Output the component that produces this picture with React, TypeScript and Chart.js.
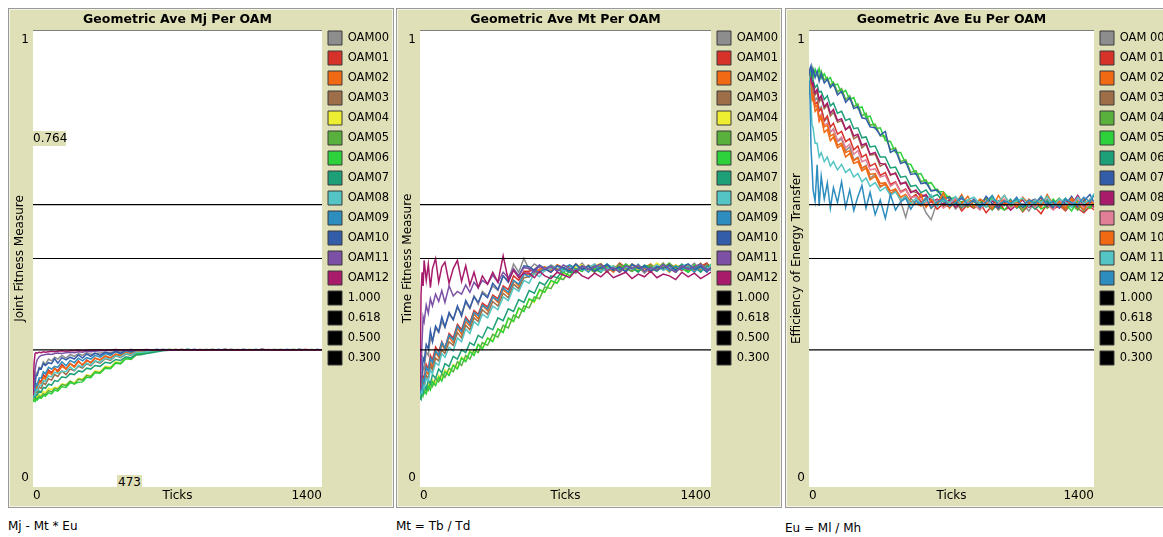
import React, { useEffect, useRef } from 'react';
import { Chart, registerables } from 'chart.js';

Chart.register(...registerables);

// ---------- data ----------
const TICKS = [
  0, 5, 10, 15, 20, 30, 40, 50, 60, 75,
  90, 105, 120, 140, 160, 180, 200, 220, 240, 260,
  280, 300, 325, 350, 375, 400, 425, 450, 475, 500,
  525, 550, 575, 600, 630, 660, 690, 720, 750, 780,
  810, 840, 870, 900, 930, 960, 990, 1020, 1050, 1080,
  1110, 1140, 1170, 1200, 1230, 1260, 1290, 1320, 1350, 1380, 1400,
];

const X_TICK_LABELS = [0, 1400];
const Y_TICK_LABELS = [0, 1];

const OAM_LABELS = ['OAM00', 'OAM01', 'OAM02', 'OAM03', 'OAM04', 'OAM05', 'OAM06', 'OAM07', 'OAM08', 'OAM09', 'OAM10', 'OAM11', 'OAM12'];
const OAM_LABELS_EU = ['OAM 00', 'OAM 01', 'OAM 02', 'OAM 03', 'OAM 04', 'OAM 05', 'OAM 06', 'OAM 07', 'OAM 08', 'OAM 09', 'OAM 10', 'OAM 11', 'OAM 12'];
const LEVELS = [1.0, 0.618, 0.5, 0.3];
const LEVEL_LABELS = ['1.000', '0.618', '0.500', '0.300'];

const COLORS_A = ['#8D8D8D', '#D73229', '#F16913', '#9D6E48', '#EDED31', '#59B03C', '#2CD13B', '#1D9F78', '#54C4C4', '#2D8DBE', '#345DA9', '#7C50A4', '#A71B6A'];
const COLORS_B = ['#8D8D8D', '#D73229', '#F16913', '#9D6E48', '#59B03C', '#2CD13B', '#1D9F78', '#345DA9', '#A71B6A', '#E07F96', '#F16913', '#54C4C4', '#2D8DBE'];

// Mj (joint fitness)
const MJ_OAM00 = [.210,.226,.232,.250,.246,.262,.260,.274,.268,.280, .276,.284,.280,.288,.282,.290,.286,.292,.288,.294, .290,.292,.293,.294,.295,.296,.296,.297,.298,.298, .299,.299,.300,.300,.301,.300,.299,.300,.301,.300, .300,.299,.300,.301,.300,.300,.299,.300,.301,.300, .300,.299,.300,.300,.301,.300,.299,.300,.300,.301,.300];
const MJ_OAM01 = [.200,.210,.208,.224,.218,.234,.230,.246,.240,.256, .250,.260,.254,.268,.258,.270,.264,.276,.266,.278, .272,.282,.278,.286,.282,.290,.288,.294,.291,.296, .296,.297,.298,.299,.300,.301,.300,.299,.300,.300, .301,.300,.299,.300,.300,.301,.300,.299,.300,.300, .301,.300,.300,.299,.300,.301,.300,.300,.299,.300,.300];
const MJ_OAM02 = [.198,.206,.205,.218,.214,.230,.226,.240,.236,.252, .246,.260,.250,.264,.258,.270,.262,.274,.268,.276, .272,.282,.278,.287,.283,.291,.288,.294,.292,.297, .297,.298,.299,.300,.300,.299,.301,.300,.300,.299, .300,.301,.300,.300,.299,.300,.301,.300,.300,.299, .300,.300,.301,.300,.299,.300,.300,.301,.300,.299,.300];
const MJ_OAM03 = [.195,.202,.200,.211,.207,.219,.216,.228,.224,.237, .234,.246,.242,.254,.246,.258,.254,.264,.260,.270, .265,.275,.271,.281,.277,.287,.283,.291,.288,.294, .294,.296,.297,.299,.300,.300,.301,.300,.299,.300, .300,.300,.301,.299,.300,.300,.300,.301,.300,.299, .300,.301,.300,.300,.300,.299,.301,.300,.300,.300,.301];
const MJ_OAM04 = [.190,.194,.192,.199,.196,.203,.200,.209,.206,.216, .213,.218,.216,.226,.224,.230,.228,.238,.236,.246, .243,.254,.252,.264,.262,.274,.272,.282,.280,.290, .290,.293,.296,.298,.300,.299,.300,.301,.300,.300, .299,.300,.301,.300,.300,.299,.300,.300,.301,.300, .300,.299,.300,.301,.300,.300,.299,.300,.301,.300,.300];
const MJ_OAM05 = [.188,.192,.189,.195,.193,.199,.197,.204,.202,.211, .208,.216,.214,.224,.222,.232,.225,.236,.234,.244, .242,.252,.250,.262,.260,.272,.270,.281,.279,.289, .290,.293,.296,.298,.300,.300,.299,.300,.301,.300, .300,.300,.299,.300,.301,.300,.300,.300,.299,.300, .301,.300,.300,.299,.300,.300,.301,.300,.300,.299,.300];
const MJ_OAM06 = [.186,.190,.187,.192,.190,.196,.194,.200,.199,.206, .204,.212,.210,.220,.218,.228,.226,.229,.230,.240, .239,.250,.249,.260,.259,.271,.270,.281,.280,.291, .292,.295,.298,.300,.300,.301,.300,.299,.300,.300, .300,.299,.300,.300,.301,.300,.299,.300,.300,.301, .300,.300,.299,.300,.300,.301,.300,.300,.299,.300,.300];
const MJ_OAM07 = [.193,.198,.196,.203,.201,.210,.208,.218,.216,.225, .223,.233,.231,.241,.239,.248,.246,.254,.252,.260, .258,.266,.264,.273,.271,.279,.277,.285,.283,.290, .290,.292,.294,.296,.298,.299,.300,.300,.301,.300, .300,.299,.300,.300,.300,.301,.300,.299,.300,.300, .301,.300,.299,.300,.300,.300,.301,.300,.299,.300,.300];
const MJ_OAM08 = [.196,.203,.202,.213,.211,.223,.222,.233,.231,.243, .241,.251,.249,.253,.253,.263,.255,.266,.263,.271, .267,.276,.273,.282,.279,.287,.284,.292,.289,.295, .295,.296,.298,.299,.300,.300,.299,.301,.300,.300, .300,.301,.300,.299,.300,.300,.300,.301,.300,.299, .300,.300,.301,.300,.300,.299,.300,.300,.301,.300,.300];
const MJ_OAM09 = [.200,.211,.212,.226,.224,.239,.238,.252,.248,.262, .258,.264,.262,.274,.265,.277,.272,.282,.276,.283, .280,.288,.284,.292,.288,.296,.291,.298,.295,.299, .299,.300,.300,.301,.300,.299,.300,.300,.301,.300, .299,.300,.300,.301,.300,.300,.299,.300,.300,.301, .300,.300,.299,.300,.301,.300,.300,.300,.299,.300,.300];
const MJ_OAM10 = [.205,.219,.224,.244,.244,.260,.258,.270,.266,.272, .270,.281,.271,.283,.278,.284,.280,.289,.282,.291, .286,.293,.288,.295,.291,.297,.293,.299,.296,.300, .299,.300,.300,.299,.301,.300,.300,.300,.299,.301, .300,.300,.301,.300,.299,.300,.300,.301,.300,.300, .299,.300,.300,.301,.300,.300,.299,.300,.300,.301,.300];
const MJ_OAM11 = [.205,.230,.255,.270,.278,.285,.288,.289,.290,.291, .290,.292,.293,.292,.294,.295,.294,.296,.295,.297, .296,.297,.298,.298,.299,.299,.300,.300,.301,.300, .300,.299,.300,.301,.300,.300,.300,.299,.300,.301, .300,.300,.299,.300,.301,.300,.300,.300,.299,.300, .301,.300,.300,.300,.299,.300,.301,.300,.300,.300,.299];
const MJ_OAM12 = [.200,.270,.292,.294,.293,.295,.294,.296,.295,.296, .297,.296,.297,.298,.297,.298,.298,.299,.298,.299, .299,.300,.300,.299,.300,.301,.300,.300,.299,.300, .300,.301,.300,.300,.299,.300,.300,.301,.300,.300, .299,.300,.300,.300,.301,.300,.299,.300,.300,.300, .301,.300,.300,.299,.300,.300,.300,.301,.300,.300,.300];

// Mt (time fitness)
const MT_OAM00 = [.205,.232,.228,.262,.258,.296,.288,.326,.318,.348, .338,.362,.350,.378,.366,.392,.380,.404,.390,.418, .400,.428,.418,.440,.430,.462,.452,.488,.470,.500, .476,.488,.480,.472,.486,.478,.470,.484,.476,.490, .474,.482,.470,.486,.478,.472,.488,.476,.482,.468, .480,.488,.474,.482,.470,.484,.478,.490,.472,.482,.486];
const MT_OAM01 = [.200,.214,.222,.242,.236,.268,.258,.288,.278,.306, .296,.318,.304,.336,.326,.356,.344,.372,.360,.386, .378,.402,.394,.420,.412,.440,.432,.462,.452,.472, .472,.476,.484,.478,.470,.486,.480,.474,.488,.476, .482,.470,.486,.478,.474,.490,.480,.472,.484,.478, .470,.484,.476,.488,.480,.474,.486,.472,.482,.490,.478];
const MT_OAM02 = [.200,.210,.212,.232,.224,.254,.246,.274,.262,.294, .284,.312,.300,.328,.316,.348,.334,.362,.352,.378, .368,.398,.386,.416,.404,.432,.422,.452,.440,.466, .465,.470,.476,.482,.474,.486,.478,.470,.484,.480, .472,.488,.476,.482,.470,.484,.478,.486,.474,.480, .488,.474,.482,.470,.486,.478,.484,.472,.490,.476,.484];
const MT_OAM03 = [.198,.208,.206,.226,.220,.244,.238,.266,.256,.282, .276,.300,.292,.318,.310,.338,.326,.354,.344,.370, .362,.388,.378,.406,.396,.424,.414,.444,.434,.458, .460,.466,.472,.478,.484,.476,.470,.486,.478,.472, .486,.476,.482,.470,.484,.478,.474,.488,.480,.472, .484,.478,.490,.474,.480,.486,.470,.482,.476,.488,.480];
const MT_OAM04 = [.200,.196,.210,.204,.218,.210,.226,.218,.234,.226, .244,.236,.256,.248,.268,.262,.284,.276,.298,.290, .312,.304,.326,.320,.346,.340,.368,.362,.390,.386, .410,.404,.430,.426,.450,.446,.468,.462,.482,.486, .474,.482,.490,.476,.484,.470,.480,.488,.474,.482, .476,.490,.480,.472,.486,.478,.484,.470,.488,.476,.482];
const MT_OAM05 = [.198,.204,.200,.212,.206,.220,.212,.228,.220,.238, .230,.248,.240,.260,.252,.274,.266,.288,.280,.300, .294,.316,.310,.334,.328,.354,.348,.376,.370,.396, .392,.416,.412,.438,.434,.458,.454,.474,.468,.482, .478,.470,.486,.480,.474,.488,.478,.472,.484,.480, .486,.474,.480,.490,.476,.484,.472,.480,.488,.474,.478];
const MT_OAM06 = [.200,.194,.208,.200,.212,.204,.220,.212,.230,.222, .240,.232,.252,.244,.266,.258,.282,.274,.296,.288, .312,.302,.326,.318,.346,.338,.370,.362,.392,.384, .412,.406,.432,.426,.452,.446,.470,.462,.478,.472, .484,.476,.470,.486,.480,.474,.488,.478,.472,.484, .480,.476,.488,.472,.484,.478,.470,.486,.480,.474,.488];
const MT_OAM07 = [.196,.192,.210,.206,.222,.214,.234,.226,.246,.238, .258,.250,.270,.264,.286,.280,.300,.294,.316,.310, .332,.326,.350,.344,.370,.364,.390,.384,.410,.404, .430,.424,.448,.442,.462,.458,.476,.470,.470,.484, .476,.482,.470,.488,.478,.474,.484,.480,.470,.486, .478,.472,.486,.480,.474,.488,.476,.482,.470,.484,.480];
const MT_OAM08 = [.200,.212,.206,.222,.216,.238,.232,.256,.248,.272, .266,.292,.284,.306,.298,.326,.318,.346,.336,.362, .354,.378,.370,.396,.388,.416,.408,.436,.428,.452, .446,.468,.460,.474,.478,.484,.472,.480,.486,.474, .480,.488,.472,.478,.484,.470,.482,.476,.488,.472, .478,.486,.474,.480,.470,.484,.488,.476,.480,.472,.486];
const MT_OAM09 = [.205,.216,.214,.236,.232,.262,.254,.282,.272,.298, .288,.316,.304,.332,.322,.352,.340,.368,.356,.382, .374,.398,.390,.416,.408,.436,.426,.452,.444,.466, .460,.476,.468,.478,.484,.472,.480,.486,.474,.482, .470,.484,.478,.488,.474,.480,.472,.486,.478,.482, .474,.480,.486,.472,.484,.476,.482,.470,.486,.478,.474];
const MT_OAM10 = [.210,.236,.244,.282,.276,.312,.302,.342,.318,.352, .340,.372,.350,.382,.366,.396,.374,.408,.392,.416, .404,.424,.414,.446,.432,.462,.448,.476,.462,.484, .482,.474,.486,.478,.470,.484,.480,.472,.488,.476, .484,.472,.480,.486,.474,.482,.470,.488,.478,.484, .472,.482,.478,.486,.474,.480,.488,.476,.482,.470,.480];
const MT_OAM11 = [.210,.262,.320,.372,.362,.398,.380,.412,.396,.422, .406,.430,.404,.440,.418,.428,.422,.442,.426,.448, .436,.452,.444,.464,.448,.470,.458,.478,.462,.480, .478,.470,.484,.476,.482,.472,.486,.478,.470,.484, .476,.482,.488,.474,.480,.470,.484,.478,.486,.472, .480,.474,.486,.478,.470,.484,.476,.482,.488,.474,.480];
const MT_OAM12 = [.215,.420,.470,.440,.496,.452,.488,.436,.478,.500, .448,.482,.492,.446,.478,.496,.450,.484,.442,.470, .436,.462,.444,.470,.448,.506,.452,.474,.458,.468, .468,.458,.472,.462,.456,.470,.464,.458,.474,.462, .456,.468,.460,.472,.458,.464,.470,.456,.466,.460, .472,.458,.466,.462,.454,.470,.460,.468,.456,.464,.470];

// Eu (efficiency of energy transfer)
const EU_OAM00 = [.900,.884,.888,.862,.870,.846,.852,.826,.832,.800, .808,.776,.784,.756,.762,.736,.744,.716,.722,.696, .704,.676,.684,.656,.664,.640,.652,.626,.590,.632, .618,.625,.600,.585,.624,.615,.630,.608,.622,.612, .628,.610,.620,.634,.606,.618,.626,.612,.620,.604, .624,.614,.630,.608,.620,.616,.628,.610,.622,.618,.612];
const EU_OAM01 = [.895,.878,.882,.858,.862,.838,.842,.822,.828,.802, .812,.788,.796,.772,.778,.756,.762,.738,.746,.722, .728,.702,.708,.682,.688,.662,.668,.646,.652,.632, .640,.624,.615,.625,.608,.620,.612,.628,.604,.618, .610,.622,.600,.616,.626,.606,.614,.620,.602,.618, .612,.598,.620,.608,.616,.604,.622,.610,.600,.614,.606];
const EU_OAM02 = [.895,.872,.878,.846,.852,.822,.828,.800,.808,.776, .782,.758,.766,.742,.748,.722,.730,.708,.712,.692, .698,.672,.680,.658,.662,.642,.648,.628,.636,.618, .620,.615,.630,.610,.624,.636,.614,.620,.640,.612, .626,.618,.632,.608,.622,.638,.616,.624,.610,.630, .620,.634,.612,.626,.618,.606,.628,.616,.632,.610,.620];
const EU_OAM03 = [.900,.888,.892,.872,.880,.858,.864,.842,.850,.828, .836,.812,.820,.798,.802,.782,.788,.762,.768,.742, .750,.726,.728,.702,.708,.682,.688,.662,.668,.648, .645,.640,.635,.630,.622,.614,.626,.618,.610,.624, .616,.628,.612,.620,.608,.624,.618,.630,.614,.622, .610,.626,.618,.612,.624,.606,.620,.628,.614,.618,.624];
const EU_OAM04 = [.895,.906,.900,.914,.896,.910,.904,.896,.910,.890, .896,.878,.886,.864,.872,.848,.856,.832,.838,.812, .818,.792,.794,.768,.768,.738,.742,.712,.716,.688, .692,.668,.672,.648,.652,.634,.636,.620,.624,.628, .612,.622,.630,.608,.618,.626,.614,.620,.604,.624, .616,.628,.610,.620,.632,.612,.618,.606,.624,.614,.620];
const EU_OAM05 = [.900,.910,.904,.912,.898,.914,.900,.916,.894,.904, .890,.896,.878,.882,.862,.868,.848,.852,.828,.832, .808,.812,.784,.786,.758,.756,.732,.732,.708,.706, .684,.686,.664,.666,.646,.646,.630,.634,.620,.614, .626,.610,.620,.632,.614,.606,.622,.628,.612,.618, .624,.608,.616,.630,.612,.620,.604,.626,.618,.610,.622];
const EU_OAM06 = [.900,.894,.900,.884,.890,.874,.880,.864,.866,.848, .856,.834,.840,.818,.822,.802,.806,.784,.786,.764, .766,.744,.746,.722,.722,.698,.700,.678,.680,.658, .660,.644,.650,.634,.640,.624,.618,.624,.612,.620, .628,.614,.620,.606,.624,.616,.630,.610,.618,.622, .608,.620,.626,.614,.618,.632,.612,.620,.604,.624,.616];
const EU_OAM07 = [.900,.916,.922,.900,.914,.896,.910,.888,.904,.884, .892,.874,.882,.858,.866,.842,.852,.828,.832,.808, .806,.788,.786,.770,.778,.732,.738,.708,.712,.684, .686,.664,.666,.648,.650,.630,.634,.620,.632,.618, .626,.614,.636,.620,.610,.628,.618,.634,.612,.624, .630,.616,.622,.610,.628,.618,.636,.614,.626,.640,.622];
const EU_OAM08 = [.900,.888,.894,.878,.884,.862,.870,.848,.856,.832, .840,.818,.826,.802,.806,.782,.790,.768,.772,.748, .752,.728,.732,.708,.706,.684,.686,.664,.666,.644, .650,.634,.640,.624,.630,.618,.628,.612,.622,.616, .630,.610,.620,.626,.614,.622,.606,.618,.628,.612, .620,.634,.614,.622,.610,.626,.618,.638,.616,.624,.612];
const EU_OAM09 = [.890,.874,.876,.852,.856,.832,.832,.808,.816,.792, .796,.778,.782,.758,.766,.742,.750,.728,.736,.712, .716,.694,.696,.678,.682,.658,.666,.644,.650,.634, .635,.630,.622,.616,.628,.610,.620,.632,.614,.624, .618,.606,.626,.614,.622,.630,.610,.620,.616,.628, .612,.624,.618,.606,.628,.614,.620,.630,.610,.618,.624];
const EU_OAM10 = [.900,.882,.880,.852,.856,.832,.836,.808,.812,.788, .792,.768,.772,.748,.752,.732,.736,.714,.720,.698, .702,.684,.686,.664,.666,.648,.652,.634,.640,.624, .624,.640,.612,.628,.618,.644,.610,.626,.620,.636, .614,.630,.622,.608,.638,.618,.626,.612,.634,.620, .628,.612,.640,.618,.624,.610,.632,.620,.606,.630,.616];
const EU_OAM11 = [.900,.862,.836,.792,.786,.752,.752,.722,.732,.712, .722,.702,.712,.694,.706,.688,.696,.678,.686,.668, .676,.658,.666,.648,.656,.638,.646,.628,.636,.620, .632,.618,.626,.640,.614,.630,.622,.636,.616,.628, .634,.620,.612,.630,.624,.638,.618,.626,.632,.614, .628,.622,.636,.616,.630,.624,.612,.634,.620,.628,.642];
const EU_OAM12 = [.890,.850,.740,.700,.650,.625,.705,.615,.680,.630, .665,.610,.655,.622,.668,.612,.650,.605,.635,.660, .610,.645,.596,.628,.588,.640,.606,.624,.632,.608, .626,.618,.634,.610,.624,.630,.614,.622,.636,.618, .628,.612,.624,.638,.616,.626,.620,.632,.614,.628, .620,.636,.616,.626,.612,.630,.622,.618,.634,.624,.638];

const MJ_SERIES = [MJ_OAM00, MJ_OAM01, MJ_OAM02, MJ_OAM03, MJ_OAM04, MJ_OAM05, MJ_OAM06, MJ_OAM07, MJ_OAM08, MJ_OAM09, MJ_OAM10, MJ_OAM11, MJ_OAM12];
const MT_SERIES = [MT_OAM00, MT_OAM01, MT_OAM02, MT_OAM03, MT_OAM04, MT_OAM05, MT_OAM06, MT_OAM07, MT_OAM08, MT_OAM09, MT_OAM10, MT_OAM11, MT_OAM12];
const EU_SERIES = [EU_OAM00, EU_OAM01, EU_OAM02, EU_OAM03, EU_OAM04, EU_OAM05, EU_OAM06, EU_OAM07, EU_OAM08, EU_OAM09, EU_OAM10, EU_OAM11, EU_OAM12];

// ---------- chart ----------
const FONT = '"DejaVu Sans", Verdana, sans-serif';
const BEIGE = '#E0E0B8';

const plotBackground = {
  id: 'plotBackground',
  beforeDraw(chart: any) {
    const { ctx, chartArea } = chart;
    ctx.save();
    ctx.fillStyle = '#ffffff';
    ctx.fillRect(chartArea.left, chartArea.top, chartArea.right - chartArea.left, chartArea.bottom - chartArea.top);
    ctx.restore();
  },
};

type PanelProps = {
  left: number;
  panelWidth: number;
  canvasWidth: number;
  yAxisWidth: number;
  legendWidth: number;
  title: string;
  yTitle: string;
  labels: string[];
  colors: string[];
  series: number[][];
  note: string;
  noteTop: number;
  children?: any;
};

function Panel(p: PanelProps) {
  const ref = useRef<HTMLCanvasElement | null>(null);

  useEffect(() => {
    if (!ref.current) return;
    const oamSets = p.series.map((vals, i) => ({
      label: p.labels[i],
      data: TICKS.map((t, k) => ({ x: t, y: vals[k] })),
      borderColor: p.colors[i],
      backgroundColor: p.colors[i],
      borderWidth: 1.5,
      pointRadius: 0,
      tension: 0,
      fill: false,
      order: 13 - i,
    }));
    const levelSets = LEVELS.map((v, i) => ({
      label: LEVEL_LABELS[i],
      data: [{ x: X_TICK_LABELS[0], y: v }, { x: X_TICK_LABELS[1], y: v }],
      borderColor: '#000000',
      backgroundColor: '#000000',
      borderWidth: 1.2,
      pointRadius: 0,
      fill: false,
      order: 0,
    }));
    const tickFont = { family: FONT, size: 12 };
    const chart = new Chart(ref.current, {
      type: 'line',
      data: { datasets: [...oamSets, ...levelSets] as any },
      plugins: [plotBackground],
      options: {
        responsive: false,
        animation: false,
        events: [],
        layout: { padding: 0 },
        scales: {
          x: {
            type: 'linear',
            min: 0,
            max: 1400,
            position: 'bottom',
            afterBuildTicks: (s: any) => { s.ticks = X_TICK_LABELS.map((v) => ({ value: v })); },
            afterFit: (s: any) => { s.height = 18; },
            ticks: { align: 'inner', padding: 2, color: '#000', font: tickFont, maxRotation: 0, autoSkip: false, callback: (v: any) => String(v) },
            grid: { display: false, drawTicks: false },
            border: { display: false },
            title: { display: true, text: 'Ticks', color: '#000', font: tickFont, padding: { top: 0, bottom: 2 } },
          },
          y: { type: 'linear', min: 0, max: 1, display: false },
          yl: {
            type: 'linear',
            position: 'left',
            min: -9 / 438,
            max: 1 + 10 / 438,
            afterBuildTicks: (s: any) => { s.ticks = Y_TICK_LABELS.map((v) => ({ value: v })); },
            afterFit: (s: any) => { s.width = p.yAxisWidth; },
            ticks: { padding: 4, color: '#000', font: tickFont, callback: (v: any) => String(v) },
            grid: { display: false, drawTicks: false },
            border: { display: false },
            title: { display: true, text: p.yTitle, color: '#000', font: tickFont, padding: { top: 3, bottom: 0 } },
          },
        },
        plugins: {
          title: {
            display: true,
            text: p.title,
            fullSize: false,
            color: '#000',
            font: { family: FONT, size: 12.5, weight: 'bold' },
            padding: { top: 2, bottom: 3 },
          },
          legend: {
            position: 'right',
            align: 'start',
            fullSize: true,
            maxWidth: p.legendWidth,
            title: { display: true, text: ' ', font: { size: 10, lineHeight: 1 }, padding: { top: 2.5, bottom: 2.5 } },
            labels: {
              boxWidth: 14,
              boxHeight: 14,
              padding: 6,
              color: '#000',
              font: { family: FONT, size: 11.5 },
              generateLabels: (c: any) =>
                c.data.datasets.map((d: any, i: number) => ({
                  text: d.label,
                  fillStyle: d.borderColor,
                  strokeStyle: '#3a3a3a',
                  lineWidth: 1,
                  hidden: false,
                  datasetIndex: i,
                  fontColor: '#000',
                })),
            },
          },
          tooltip: { enabled: false },
        },
      } as any,
    });
    return () => chart.destroy();
  }, []);

  return (
    <>
      <div
        style={{
          position: 'absolute',
          left: p.left,
          top: 8,
          width: p.panelWidth,
          height: 500,
          boxSizing: 'border-box',
          background: BEIGE,
          border: '1px solid #9a9a94',
          boxShadow: 'inset 0 0 0 1px #f4f4ec',
        }}
      />
      <canvas
        ref={ref}
        width={p.canvasWidth}
        height={495}
        style={{ position: 'absolute', left: p.left + 2, top: 10, width: p.canvasWidth, height: 495 }}
      />
      {p.children}
      <div style={{ position: 'absolute', left: p.left, top: p.noteTop, fontFamily: FONT, fontSize: 12, color: '#000', whiteSpace: 'nowrap' }}>
        {p.note}
      </div>
    </>
  );
}

const readout = (left: number, top: number, w: number, text: string) => (
  <div
    style={{
      position: 'absolute',
      left,
      top,
      width: w,
      height: 15,
      background: BEIGE,
      fontFamily: FONT,
      fontSize: 12,
      lineHeight: '15px',
      color: '#000',
      textAlign: 'center',
    }}
  >
    {text}
  </div>
);

export default function App() {
  return (
    <div style={{ position: 'absolute', left: 0, top: 0, width: 1163, height: 537, overflow: 'hidden', background: '#ffffff' }}>
      <Panel
        left={8}
        panelWidth={386}
        canvasWidth={381}
        yAxisWidth={23}
        legendWidth={69}
        title="Geometric Ave Mj Per OAM"
        yTitle="Joint Fitness Measure"
        labels={OAM_LABELS}
        colors={COLORS_A}
        series={MJ_SERIES}
        note="Mj - Mt * Eu"
        noteTop={519}
      >
        {readout(33, 131, 33, '0.764')}
        {readout(117, 475, 25, '473')}
      </Panel>
      <Panel
        left={396}
        panelWidth={386}
        canvasWidth={381}
        yAxisWidth={22}
        legendWidth={68}
        title="Geometric Ave Mt Per OAM"
        yTitle="Time Fitness Measure"
        labels={OAM_LABELS}
        colors={COLORS_A}
        series={MT_SERIES}
        note="Mt = Tb / Td"
        noteTop={519}
      />
      <Panel
        left={785}
        panelWidth={400}
        canvasWidth={377}
        yAxisWidth={22}
        legendWidth={70}
        title="Geometric Ave Eu Per OAM"
        yTitle="Efficiency of Energy Transfer"
        labels={OAM_LABELS_EU}
        colors={COLORS_B}
        series={EU_SERIES}
        note="Eu = Ml / Mh"
        noteTop={521}
      />
    </div>
  );
}
